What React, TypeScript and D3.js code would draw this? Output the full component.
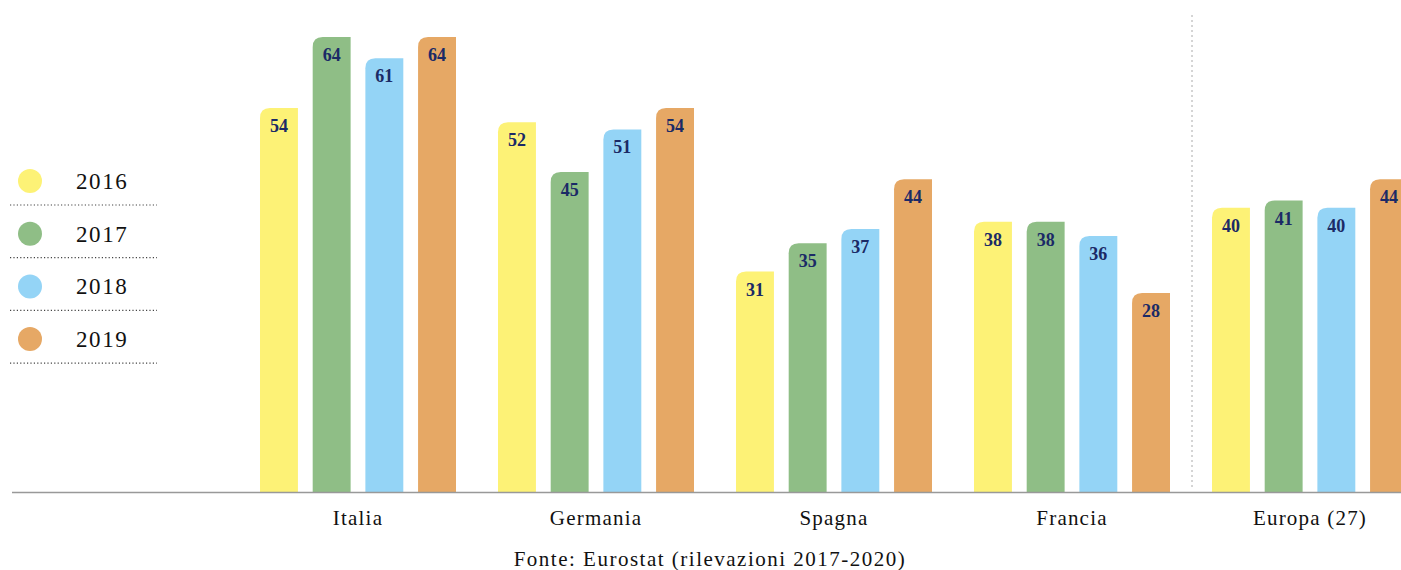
import React from "react";
import * as d3 from "d3";

const categories = ["Italia", "Germania", "Spagna", "Francia", "Europa (27)"];
const years = ["2016", "2017", "2018", "2019"];
const v2016 = [54, 52, 31, 38, 40];
const v2017 = [64, 45, 35, 38, 41];
const v2018 = [61, 51, 37, 36, 40];
const v2019 = [64, 54, 44, 28, 44];
const colors = ["#fdf276", "#8fbe86", "#94d4f6", "#e6a865"];
const source = "Fonte: Eurostat (rilevazioni 2017-2020)";

const W = 1401;
const H = 570;
const FONT = "'Liberation Serif', 'DejaVu Serif', serif";

export default function App() {
  const series = [v2016, v2017, v2018, v2019];
  const baseline = 492;
  const y = d3.scaleLinear().domain([0, 64]).range([baseline, 37]);
  const x0 = d3.scaleBand<string>().domain(categories).range([260, 260 + 238 * 5]).padding(0);
  const x1 = d3.scaleBand<string>().domain(years).range([0, 196]).paddingInner(0.28).paddingOuter(0);
  const bw = x1.bandwidth();
  const r = 10;

  const barPath = (x: number, top: number, w: number) =>
    `M${x},${baseline} L${x},${top + r} Q${x},${top} ${x + r},${top} L${x + w},${top} L${x + w},${baseline} Z`;

  return (
    <svg width={W} height={H} style={{ position: "absolute", left: 0, top: 0, background: "#fff" }}>
      {/* legend */}
      {years.map((yr, i) => {
        const cy = 181 + i * 52.7;
        return (
          <g key={yr}>
            <circle cx={30} cy={cy} r={12} fill={colors[i]} />
            <text x={76} y={cy + 8} fontFamily={FONT} fontSize={23} letterSpacing={1.6} fill="#111">
              {yr}
            </text>
            <line x1={10} x2={157} y1={cy + 24} y2={cy + 24} stroke="#444" strokeWidth={1.2} strokeDasharray="1.2 2.2" />
          </g>
        );
      })}

      {/* separator */}
      <line x1={1192} x2={1192} y1={15} y2={490} stroke="#aaa" strokeWidth={1} strokeDasharray="2 3" />

      {/* bars */}
      {categories.map((c, ci) => (
        <g key={c}>
          {years.map((yr, yi) => {
            const val = series[yi][ci];
            const bx = (x0(c) as number) + (x1(yr) as number);
            const top = y(val);
            return (
              <g key={yr}>
                <path d={barPath(bx, top, bw)} fill={colors[yi]} />
                <text
                  x={bx + bw / 2}
                  y={top + 24}
                  textAnchor="middle"
                  fontFamily={FONT}
                  fontWeight="bold"
                  fontSize={18}
                  fill="#1b2a66"
                >
                  {val}
                </text>
              </g>
            );
          })}
          <text
            x={(x0(c) as number) + 98}
            y={525}
            textAnchor="middle"
            fontFamily={FONT}
            fontSize={21}
            letterSpacing={1.2}
            fill="#111"
          >
            {c}
          </text>
        </g>
      ))}

      {/* baseline */}
      <line x1={12} x2={W} y1={baseline + 0.5} y2={baseline + 0.5} stroke="#999" strokeWidth={1.5} />

      <text x={710} y={566} textAnchor="middle" fontFamily={FONT} fontSize={21} letterSpacing={1.5} fill="#111">
        {source}
      </text>
    </svg>
  );
}
